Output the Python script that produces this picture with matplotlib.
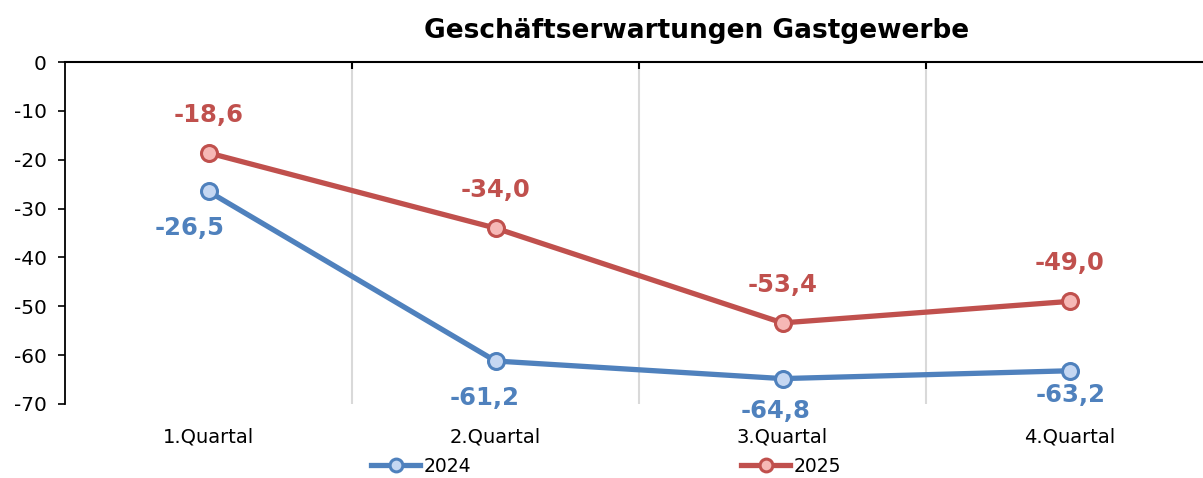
import matplotlib.pyplot as plt

plt.rcParams['font.family'] = ['DejaVu Sans']

# Daten
quartale = ["1.Quartal", "2.Quartal", "3.Quartal", "4.Quartal"]
werte_2024 = [-26.5, -61.2, -64.8, -63.2]
werte_2025 = [-18.6, -34.0, -53.4, -49.0]
yticks = [0, -10, -20, -30, -40, -50, -60, -70]

blau, blau_hell = "#4F81BD", "#C5D7F2"
rot, rot_hell = "#C0504D", "#F6B8B6"

# Abstand der Beschriftungen (in Pixel)
off_2024 = [(-19, -37), (-11, -37), (-7, -32), (1, -24)]
off_2025 = [(0, 38), (0, 38), (0, 38), (0, 38)]

fig = plt.figure(figsize=(12.03, 4.78), dpi=100)
ax = fig.add_axes([65 / 1203, 74 / 478, 1148 / 1203, 342 / 478])

x = range(len(quartale))
ax.plot(x, werte_2024, color=blau, lw=3.8, marker='o', ms=11.5,
        mfc=blau_hell, mec=blau, mew=2.2, label="2024", zorder=3)
ax.plot(x, werte_2025, color=rot, lw=3.8, marker='o', ms=11.5,
        mfc=rot_hell, mec=rot, mew=2.2, label="2025", zorder=3)

for i in x:
    ax.annotate(f"{werte_2024[i]:.1f}".replace('.', ','), (i, werte_2024[i]),
                xytext=off_2024[i], textcoords='offset pixels', ha='center', va='center',
                color=blau, fontsize=17.5, fontweight='bold')
    ax.annotate(f"{werte_2025[i]:.1f}".replace('.', ','), (i, werte_2025[i]),
                xytext=off_2025[i], textcoords='offset pixels', ha='center', va='center',
                color=rot, fontsize=17.5, fontweight='bold')

ax.set_xlim(-0.5, 3.5)
ax.set_ylim(-70, 0)
ax.set_yticks(yticks)
ax.set_yticklabels([str(v) for v in yticks], fontsize=14.5)
ax.set_xticks(list(x))
ax.set_xticklabels(quartale, fontsize=14)
ax.tick_params(axis='x', which='major', length=0, pad=17)
ax.set_xticks([0.5, 1.5, 2.5], minor=True)
ax.tick_params(axis='x', which='minor', top=True, bottom=False, direction='in', length=5, width=1.5)
ax.tick_params(axis='y', length=5, width=1.2, pad=8)
ax.grid(axis='x', which='minor', color='#D9D9D9', lw=1.5)

ax.spines['bottom'].set_visible(False)
ax.spines['right'].set_visible(False)
ax.spines['top'].set_linewidth(1.5)
ax.spines['left'].set_linewidth(1.3)

fig.text(697 / 1203, 1 - 31 / 478, "Geschäftserwartungen Gastgewerbe", ha='center', va='center',
         fontsize=19, fontweight='bold')

leg = fig.legend(loc='center', bbox_to_anchor=(0.504, 1 - 466 / 478), ncol=2, frameon=False,
                 fontsize=13.5, handlelength=2.6, handletextpad=0.2, columnspacing=14.4,
                 markerscale=0.8)

plt.savefig("out.png", dpi=100)
plt.close()
